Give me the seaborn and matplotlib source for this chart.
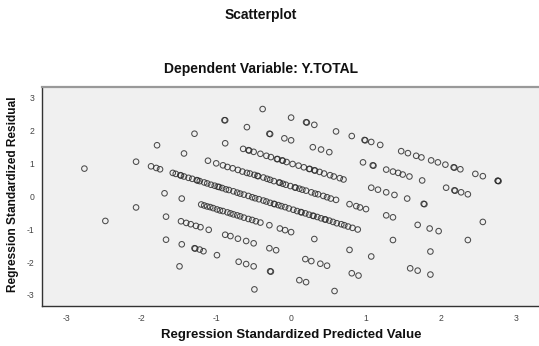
import matplotlib
matplotlib.use("Agg")
import matplotlib.pyplot as plt
import seaborn as sns
import numpy as np
import pandas as pd

# ---- data (standardized predicted value, standardized residual) ----
pred_b8 = [-0.38, 0.00, 0.20, 0.21, 0.31, 0.60, 0.81, 0.98, 0.99, 1.07, 1.19, 1.47, 1.56, 1.67, 1.74, 1.87, 1.96, 2.06, 2.17, 2.18, 2.26, 2.46, 2.56, 2.76, 2.76, 2.77]
resid_b8 = [2.65, 2.39, 2.25, 2.24, 2.17, 1.97, 1.83, 1.71, 1.70, 1.65, 1.56, 1.37, 1.31, 1.23, 1.18, 1.09, 1.03, 0.96, 0.88, 0.87, 0.82, 0.68, 0.61, 0.47, 0.47, 0.46]

pred_b7 = [-0.89, -0.88, -0.59, -0.29, -0.28, -0.09, 0.00, 0.29, 0.40, 0.51, 0.96, 1.09, 1.10, 1.27, 1.36, 1.43, 1.49, 1.58, 1.75, 2.07, 2.18, 2.19, 2.27, 2.36]
resid_b7 = [2.31, 2.31, 2.10, 1.90, 1.89, 1.76, 1.70, 1.49, 1.42, 1.34, 1.03, 0.94, 0.93, 0.81, 0.75, 0.71, 0.66, 0.60, 0.48, 0.26, 0.18, 0.17, 0.12, 0.06]

pred_b6 = [-1.29, -0.88, -0.64, -0.57, -0.56, -0.50, -0.41, -0.33, -0.27, -0.19, -0.18, -0.12, -0.11, -0.06, 0.02, 0.10, 0.17, 0.24, 0.25, 0.31, 0.32, 0.38, 0.44, 0.52, 0.57, 0.65, 0.70, 1.07, 1.16, 1.27, 1.38, 1.55, 1.77, 1.78, 2.56]
resid_b6 = [1.90, 1.61, 1.44, 1.40, 1.39, 1.35, 1.29, 1.23, 1.19, 1.13, 1.13, 1.09, 1.08, 1.04, 0.98, 0.93, 0.88, 0.83, 0.83, 0.79, 0.78, 0.74, 0.69, 0.64, 0.60, 0.55, 0.51, 0.26, 0.20, 0.12, 0.04, -0.07, -0.23, -0.24, -0.78]

pred_b5 = [-1.79, -1.43, -1.11, -1.00, -0.91, -0.85, -0.78, -0.71, -0.65, -0.59, -0.55, -0.49, -0.45, -0.44, -0.37, -0.32, -0.28, -0.23, -0.16, -0.15, -0.11, -0.07, -0.01, 0.05, 0.06, 0.11, 0.15, 0.20, 0.27, 0.32, 0.36, 0.43, 0.48, 0.53, 0.60, 0.78, 0.87, 0.92, 1.00, 1.27, 1.36, 1.69, 1.85, 1.97, 2.36]
resid_b5 = [1.55, 1.30, 1.08, 1.00, 0.94, 0.89, 0.85, 0.80, 0.75, 0.71, 0.69, 0.65, 0.62, 0.61, 0.57, 0.53, 0.50, 0.46, 0.42, 0.41, 0.38, 0.35, 0.31, 0.27, 0.26, 0.23, 0.20, 0.17, 0.12, 0.08, 0.06, 0.01, -0.03, -0.07, -0.11, -0.24, -0.30, -0.34, -0.39, -0.58, -0.64, -0.87, -0.98, -1.06, -1.33]

pred_b4 = [-2.07, -1.87, -1.80, -1.75, -1.58, -1.54, -1.48, -1.47, -1.43, -1.37, -1.32, -1.26, -1.25, -1.22, -1.16, -1.12, -1.07, -1.02, -0.98, -0.96, -0.92, -0.87, -0.83, -0.77, -0.72, -0.68, -0.63, -0.57, -0.52, -0.48, -0.43, -0.37, -0.33, -0.28, -0.23, -0.22, -0.17, -0.13, -0.08, -0.03, 0.03, 0.08, 0.13, 0.14, 0.19, 0.24, 0.29, 0.30, 0.35, 0.40, 0.45, 0.46, 0.51, 0.56, 0.61, 0.67, 0.71, 0.76, 0.82, 0.89, 1.36, 1.86]
resid_b4 = [1.05, 0.91, 0.86, 0.82, 0.71, 0.68, 0.64, 0.63, 0.60, 0.56, 0.53, 0.49, 0.48, 0.46, 0.42, 0.39, 0.35, 0.32, 0.29, 0.28, 0.25, 0.21, 0.19, 0.15, 0.11, 0.08, 0.05, 0.01, -0.03, -0.06, -0.09, -0.13, -0.16, -0.20, -0.23, -0.24, -0.27, -0.30, -0.33, -0.37, -0.41, -0.45, -0.48, -0.49, -0.52, -0.56, -0.59, -0.60, -0.63, -0.67, -0.70, -0.71, -0.74, -0.78, -0.82, -0.85, -0.88, -0.92, -0.96, -1.01, -1.33, -1.68]

pred_b3 = [-2.76, -1.69, -1.46, -1.20, -1.16, -1.12, -1.08, -1.04, -0.99, -0.95, -0.91, -0.85, -0.81, -0.77, -0.72, -0.68, -0.63, -0.57, -0.52, -0.47, -0.41, -0.29, -0.15, -0.08, 0.00, 0.31, 0.78, 1.07, 1.59, 1.69, 1.86]
resid_b3 = [0.84, 0.09, -0.07, -0.25, -0.28, -0.31, -0.33, -0.36, -0.40, -0.43, -0.45, -0.49, -0.52, -0.55, -0.58, -0.61, -0.65, -0.69, -0.72, -0.76, -0.80, -0.88, -0.98, -1.03, -1.09, -1.30, -1.63, -1.83, -2.19, -2.26, -2.38]

pred_b2 = [-2.07, -1.67, -1.47, -1.40, -1.34, -1.27, -1.21, -1.10, -0.88, -0.81, -0.71, -0.60, -0.50, -0.29, -0.20, 0.19, 0.27, 0.39, 0.48, 0.81, 0.90]
resid_b2 = [-0.34, -0.62, -0.76, -0.81, -0.85, -0.90, -0.94, -1.02, -1.17, -1.21, -1.29, -1.36, -1.43, -1.58, -1.64, -1.91, -1.97, -2.05, -2.11, -2.34, -2.41]

pred_b1 = [-2.48, -1.67, -1.46, -1.29, -1.28, -1.22, -1.17, -0.99, -0.70, -0.60, -0.50, -0.28, -0.27, 0.11, 0.20, 0.58]
resid_b1 = [-0.75, -1.32, -1.46, -1.58, -1.59, -1.62, -1.67, -1.79, -1.99, -2.06, -2.13, -2.28, -2.29, -2.55, -2.61, -2.88]

pred_b0 = [-1.49, -0.49]
resid_b0 = [-2.13, -2.83]

x_ticks = [-3, -2, -1, 0, 1, 2, 3]
y_ticks = [-3, -2, -1, 0, 1, 2, 3]

title_text = "Scatterplot"
subtitle_text = "Dependent Variable: Y.TOTAL"
x_label = "Regression Standardized Predicted Value"
y_label = "Regression Standardized Residual"

pred = pred_b8 + pred_b7 + pred_b6 + pred_b5 + pred_b4 + pred_b3 + pred_b2 + pred_b1 + pred_b0
resid = resid_b8 + resid_b7 + resid_b6 + resid_b5 + resid_b4 + resid_b3 + resid_b2 + resid_b1 + resid_b0
df = pd.DataFrame({"pred": pred, "resid": resid})

# ---- style ----
sns.set_style("white")
plt.rcParams["font.family"] = ["Liberation Sans", "DejaVu Sans"]

W, H = 539, 346
fig = plt.figure(figsize=(W / 100, H / 100), dpi=100)
fig.patch.set_facecolor("white")
ax = fig.add_axes([41.7 / W, 1 - 306 / H, (W - 41.7) / W, (306 - 87) / H])
ax.set_facecolor("#f0f0f0")

sns.scatterplot(data=df, x="pred", y="resid", ax=ax, marker="o", s=16,
                color="#333333", linewidth=0.75, legend=False, zorder=3)
coll = ax.collections[0]
coll.set_facecolor("none")
coll.set_edgecolor("#2e2e2e")
coll.set_alpha(0.85)

ax.set_xlim(-3.33, 3.31)
ax.set_ylim(-3.335, 3.32)
ax.set_xticks(x_ticks)
ax.set_yticks(y_ticks)
ax.set_xticklabels([str(t) for t in x_ticks])
ax.set_yticklabels([str(t) for t in y_ticks])
ax.tick_params(axis="both", direction="out", length=3.5, width=0.8,
               colors="#444444", labelsize=6.2, pad=2, labelcolor="#444444")
ax.set_xlabel("")
ax.set_ylabel("")

for side in ["left", "bottom"]:
    ax.spines[side].set_color("#333333")
    ax.spines[side].set_linewidth(1.0)
ax.spines["top"].set_color("#999999")
ax.spines["top"].set_linewidth(1.6)
ax.spines["right"].set_visible(False)

fig.text(261 / W, 1 - 14.5 / H, title_text, ha="center", va="center",
         fontsize=10, fontweight="bold", color="#111111")
fig.text(261 / W, 1 - 68.5 / H, subtitle_text, ha="center", va="center",
         fontsize=10, fontweight="bold", color="#111111")
fig.text(291 / W, 1 - 335 / H, x_label, ha="center", va="center",
         fontsize=9.5, fontweight="bold", color="#111111")
fig.text(13 / W, 1 - 194 / H, y_label, ha="center", va="center", rotation=90,
         fontsize=8.6, fontweight="bold", color="#111111")

fig.savefig("out.png", dpi=100)
